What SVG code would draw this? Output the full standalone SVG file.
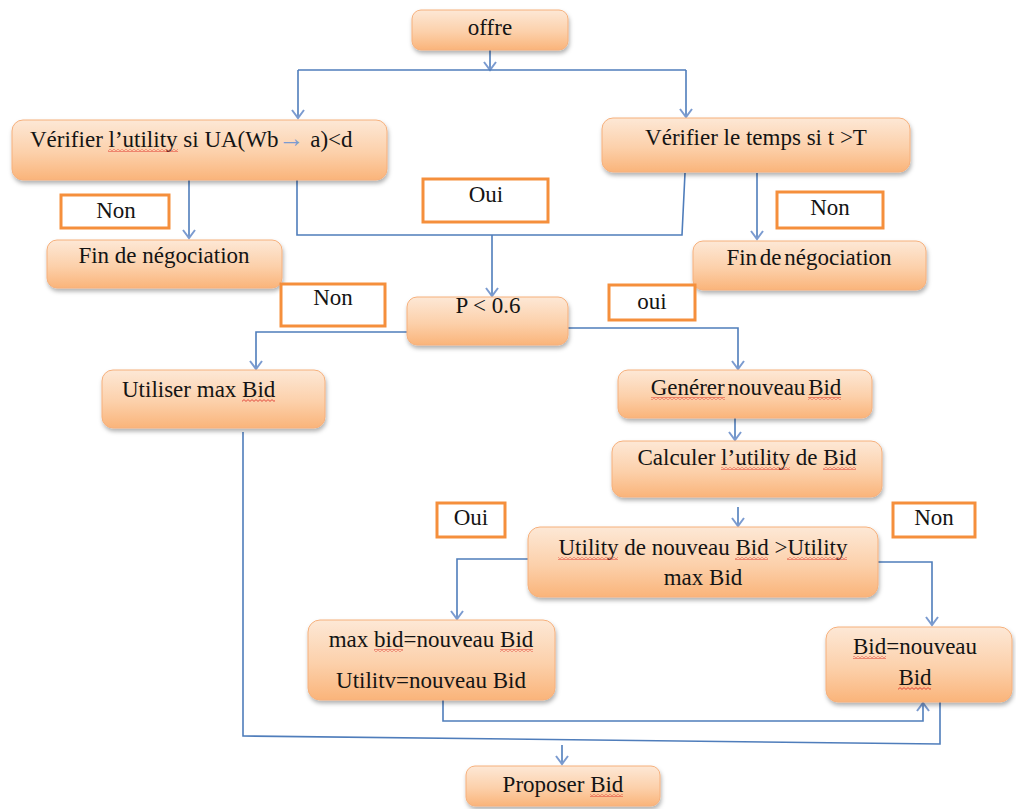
<svg xmlns="http://www.w3.org/2000/svg" width="1016" height="809" viewBox="0 0 1016 809" font-family="'Liberation Serif', 'Times New Roman', serif">
  <style>
    .box rect { fill: url(#peach); stroke: #f6b07c; stroke-width: 1; filter: url(#shadow); }
    .box rect.sq { fill: url(#squig); stroke: none; filter: none; }
    .lbl rect { fill: #ffffff; stroke: #f58f3c; stroke-width: 3; }
    text { font-family: 'Liberation Serif', 'Times New Roman', serif; font-size: 23px; fill: #141414; }
    .c { text-anchor: middle; }
    .wire { fill: none; stroke: #4f7dbb; stroke-width: 1.6; }
    .arr { fill: none; stroke: #4f7dbb; stroke-width: 1.6; marker-end: url(#head); }
  </style>
  <defs>
    <linearGradient id="peach" x1="0" y1="0" x2="0" y2="1">
      <stop offset="0" stop-color="#fde8d6"/>
      <stop offset="0.55" stop-color="#fcd0aa"/>
      <stop offset="1" stop-color="#fab47a"/>
    </linearGradient>
    <filter id="shadow" x="-10%" y="-20%" width="120%" height="160%">
      <feDropShadow dx="1" dy="3" stdDeviation="2" flood-color="#000" flood-opacity="0.3"/>
    </filter>
    <!-- spell-check style wavy underline -->
    <pattern id="squig" patternUnits="userSpaceOnUse" width="4" height="3">
      <path d="M0,0.6 L2,2.4 L4,0.6" fill="none" stroke="#e0382e" stroke-width="0.9"/>
    </pattern>
    <marker id="head" markerUnits="userSpaceOnUse" markerWidth="16" markerHeight="16" refX="0" refY="0" viewBox="-10 -8 12 16" orient="auto">
      <path d="M-8,-6 L0,0 L-8,6" fill="none" stroke="#7b9bd0" stroke-width="2"/>
    </marker>
  </defs>

  <!-- connectors -->
  <g id="connectors">
    <path class="arr" d="M490,50 V70"/>
    <path class="wire" d="M298,70 H686"/>
    <path class="arr" d="M298,70 V118"/>
    <path class="arr" d="M686,70 V117"/>
    <path class="arr" d="M189,180 V238"/>
    <path class="wire" d="M297,180 V235 H682 L685,173"/>
    <path class="arr" d="M492,235 V296"/>
    <path class="arr" d="M757,173 V239"/>
    <path class="arr" d="M407,332 H256 V369"/>
    <path class="arr" d="M568,328 H738 V369"/>
    <path class="arr" d="M735,418 V440"/>
    <path class="arr" d="M738,507 V526"/>
    <path class="arr" d="M528,559 H457 V619"/>
    <path class="arr" d="M878,562 H932 V625"/>
    <path class="arr" d="M443,700 V721 H923 V703"/>
    <path class="wire" d="M243,432 V736 L940,744 V702"/>
    <path class="arr" d="M562,745 V764"/>
  </g>

  <!-- process steps -->
  <g id="offre" class="box">
    <rect x="412" y="10" width="156" height="40" rx="9"/>
    <text class="c" x="490" y="35">offre</text>
  </g>
  <g id="verif-utility" class="box">
    <rect x="12" y="120" width="375" height="60" rx="11"/>
    <text x="30" y="147">Vérifier l’<tspan>utility</tspan> si UA(Wb<tspan fill="#7b9bd0" font-size="26">→</tspan> a)&lt;d</text>
    <rect class="sq" x="108" y="149" width="70" height="3"/>
  </g>
  <g id="verif-temps" class="box">
    <rect x="602" y="118" width="308" height="54" rx="11"/>
    <text class="c" x="756" y="145">Vérifier le temps si t &gt;T</text>
  </g>
  <g id="fin-gauche" class="box">
    <rect x="47" y="240" width="235" height="48" rx="10"/>
    <text class="c" x="164" y="263">Fin de négociation</text>
  </g>
  <g id="fin-droite" class="box">
    <rect x="693" y="241" width="233" height="49" rx="10"/>
    <text class="c" x="809" y="265" word-spacing="-3">Fin de négociation</text>
  </g>
  <g id="test-p" class="box">
    <rect x="407" y="297" width="161" height="48" rx="10"/>
    <text class="c" x="488" y="313">P &lt; 0.6</text>
  </g>
  <g id="max-bid" class="box">
    <rect x="102" y="370" width="223" height="58" rx="11"/>
    <text x="122" y="397">Utiliser max <tspan>Bid</tspan></text>
    <rect class="sq" x="242" y="399" width="33" height="3"/>
  </g>
  <g id="generer" class="box">
    <rect x="618" y="370" width="254" height="48" rx="10"/>
    <text class="c" x="746" y="395" word-spacing="-3"><tspan>Genérer</tspan> nouveau <tspan>Bid</tspan></text>
    <rect class="sq" x="651" y="397" width="74" height="3"/>
    <rect class="sq" x="808" y="397" width="33" height="3"/>
  </g>
  <g id="calculer" class="box">
    <rect x="612" y="441" width="270" height="56" rx="11"/>
    <text class="c" x="747" y="465">Calculer l’<tspan>utility</tspan> de <tspan>Bid</tspan></text>
    <rect class="sq" x="721" y="467" width="69" height="3"/>
    <rect class="sq" x="823" y="467" width="33" height="3"/>
  </g>
  <g id="comparer" class="box">
    <rect x="528" y="527" width="350" height="70" rx="12"/>
    <text class="c" x="703" y="555"><tspan>Utility</tspan> de nouveau <tspan>Bid</tspan> &gt;<tspan>Utility</tspan></text>
    <text class="c" x="703" y="585">max Bid</text>
    <rect class="sq" x="558" y="557" width="60" height="3"/>
    <rect class="sq" x="735" y="557" width="33" height="3"/>
    <rect class="sq" x="787" y="557" width="60" height="3"/>
  </g>
  <g id="maj-max" class="box">
    <rect x="308" y="620" width="247" height="80" rx="12"/>
    <text class="c" x="431" y="647">max <tspan>bid</tspan>=nouveau <tspan>Bid</tspan></text>
    <text class="c" x="431" y="688">Utilitv=nouveau Bid</text>
    <rect class="sq" x="374" y="649" width="29" height="3"/>
    <rect class="sq" x="500" y="649" width="33" height="3"/>
  </g>
  <g id="maj-bid" class="box">
    <rect x="826" y="627" width="186" height="75" rx="12"/>
    <text class="c" x="915" y="654"><tspan>Bid</tspan>=nouveau</text>
    <text class="c" x="915" y="685">Bid</text>
    <rect class="sq" x="853" y="656" width="33" height="3"/>
    <rect class="sq" x="898" y="687" width="33" height="3"/>
  </g>
  <g id="proposer" class="box">
    <rect x="466" y="766" width="194" height="40" rx="9"/>
    <text class="c" x="563" y="792">Proposer <tspan>Bid</tspan></text>
    <rect class="sq" x="590" y="794" width="33" height="3"/>
  </g>

  <!-- branch labels -->
  <g id="lbl-non-1" class="lbl">
    <rect x="61" y="195" width="108" height="33"/>
    <text class="c" x="116" y="218">Non</text>
  </g>
  <g id="lbl-oui-1" class="lbl">
    <rect x="423" y="179" width="125" height="43"/>
    <text class="c" x="486" y="202">Oui</text>
  </g>
  <g id="lbl-non-2" class="lbl">
    <rect x="777" y="192" width="106" height="36"/>
    <text class="c" x="830" y="215">Non</text>
  </g>
  <g id="lbl-non-3" class="lbl">
    <rect x="281" y="284" width="104" height="42"/>
    <text class="c" x="333" y="305">Non</text>
  </g>
  <g id="lbl-oui-2" class="lbl">
    <rect x="609" y="285" width="86" height="35"/>
    <text class="c" x="652" y="309">oui</text>
  </g>
  <g id="lbl-oui-3" class="lbl">
    <rect x="437" y="503" width="68" height="34"/>
    <text class="c" x="471" y="525">Oui</text>
  </g>
  <g id="lbl-non-4" class="lbl">
    <rect x="893" y="503" width="82" height="34"/>
    <text class="c" x="934" y="525">Non</text>
  </g>
</svg>
